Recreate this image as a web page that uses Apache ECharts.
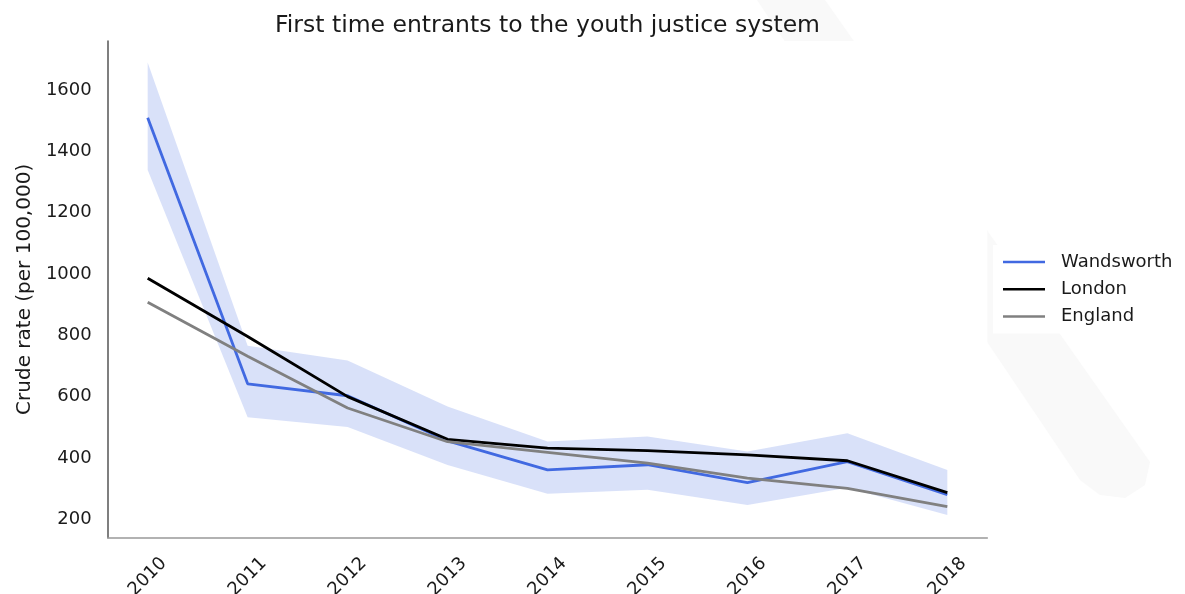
<!DOCTYPE html>
<html><head><meta charset="utf-8">
<script src="https://cdn.jsdelivr.net/npm/echarts@6/dist/echarts.min.js"></script>
<style>html,body{margin:0;padding:0;background:#fff}#c{width:1185px;height:594px}</style>
</head><body><div id="c"></div>
<script>
const years = [2010, 2011, 2012, 2013, 2014, 2015, 2016, 2017, 2018];
const wandsworth = [1510, 642, 603, 456, 361, 378, 320, 388, 280];
const wandsworthUpper = [1690, 766, 718, 568, 454, 470, 421, 481, 361];
const wandsworthLower = [1339, 533, 501, 377, 283, 296, 247, 303, 214];
const london = [986, 796, 600, 461, 432, 424, 410, 391, 287];
const england = [908, 732, 563, 453, 418, 383, 334, 301, 241];
const yTickLabels = [200, 400, 600, 800, 1000, 1200, 1400, 1600];
const seriesNames = ['Wandsworth', 'London', 'England'];
const titleText = 'First time entrants to the youth justice system';
const yAxisName = 'Crude rate (per 100,000)';

const FONT = 'DejaVu Sans';
const chart = echarts.init(document.getElementById('c'), null, {renderer: 'canvas'});
const pairs = vals => years.map((y, i) => [y, vals[i]]);
const isInt = v => Math.abs(v - Math.round(v)) < 1e-6;

const GRID = {left: 107.7, right: 197.7, top: 41, bottom: 56.3};

chart.setOption({
  animation: false,
  backgroundColor: '#fff',
  graphic: [
    { // faint background watermark stroke
      type: 'polygon', z: -20, silent: true,
      shape: {points: [[757, 0], [825, 0], [1150, 462], [1145, 485], [1125, 498], [1100, 495], [1080, 480]]},
      style: {fill: '#f9f9f9'}
    },
    { // plot area background
      type: 'rect', z: -10, silent: true,
      shape: {x: GRID.left, y: GRID.top, width: 1185 - GRID.left - GRID.right, height: 594 - GRID.top - GRID.bottom},
      style: {fill: '#fff'}
    },
    {
      type: 'text', z: 10, x: 547.5, y: 14,
      style: {text: titleText, font: '23.5px "DejaVu Sans"', fill: '#1a1a1a', textAlign: 'center', textVerticalAlign: 'top'}
    }
  ],
  grid: Object.assign({outerBoundsMode: 'none', containLabel: false}, GRID),
  legend: {
    data: seriesNames, orient: 'vertical', left: 993, top: 245,
    padding: [8, 8, 8, 10], backgroundColor: '#fff',
    icon: 'rect', itemWidth: 42, itemHeight: 2.5, itemGap: 9.3,
    textStyle: {fontFamily: FONT, fontSize: 18, color: '#1a1a1a', padding: [0, 0, 0, 11]}
  },
  xAxis: {
    type: 'value', min: 2009.6, max: 2018.4, interval: 0.2,
    splitLine: {show: false}, axisTick: {show: false},
    axisLine: {lineStyle: {color: '#999', width: 1.5}},
    axisLabel: {
      rotate: 45, align: 'center', verticalAlign: 'middle', margin: 39,
      fontFamily: FONT, fontSize: 18, color: '#1a1a1a',
      showMinLabel: false, showMaxLabel: false,
      formatter: v => isInt(v) && years.includes(Math.round(v)) ? String(Math.round(v)) : ''
    }
  },
  yAxis: {
    type: 'value', min: 140, max: 1760, interval: 20,
    name: yAxisName, nameLocation: 'middle', nameGap: 70, nameRotate: 90,
    nameTextStyle: {fontFamily: FONT, fontSize: 20, color: '#1a1a1a'},
    splitLine: {show: false}, axisTick: {show: false},
    axisLine: {show: true, lineStyle: {color: '#555', width: 1.5}},
    axisLabel: {
      margin: 16, fontFamily: FONT, fontSize: 18, color: '#1a1a1a',
      showMinLabel: false, showMaxLabel: false,
      formatter: v => yTickLabels.includes(Math.round(v)) && isInt(v) ? String(Math.round(v)) : ''
    }
  },
  series: [
    {
      type: 'custom', name: 'band', silent: true, z: 1,
      data: years.map((y, i) => [y, wandsworthUpper[i], wandsworthLower[i]]),
      encode: {x: 0, y: [1, 2]},
      renderItem: (params, api) => {
        if (params.dataIndex !== 0) return null;
        const pts = [];
        years.forEach((y, i) => pts.push(api.coord([y, wandsworthUpper[i]])));
        for (let i = years.length - 1; i >= 0; i--) pts.push(api.coord([years[i], wandsworthLower[i]]));
        return {type: 'polygon', shape: {points: pts}, style: {fill: 'rgba(65,105,225,0.2)'}};
      }
    },
    {type: 'line', name: 'Wandsworth', data: pairs(wandsworth), showSymbol: false, z: 3,
     color: '#4169e1', lineStyle: {width: 2.8, color: '#4169e1'}},
    {type: 'line', name: 'London', data: pairs(london), showSymbol: false, z: 4,
     color: '#000', lineStyle: {width: 2.8, color: '#000'}},
    {type: 'line', name: 'England', data: pairs(england), showSymbol: false, z: 5,
     color: '#808080', lineStyle: {width: 2.8, color: '#808080'}}
  ]
});
</script></body></html>
